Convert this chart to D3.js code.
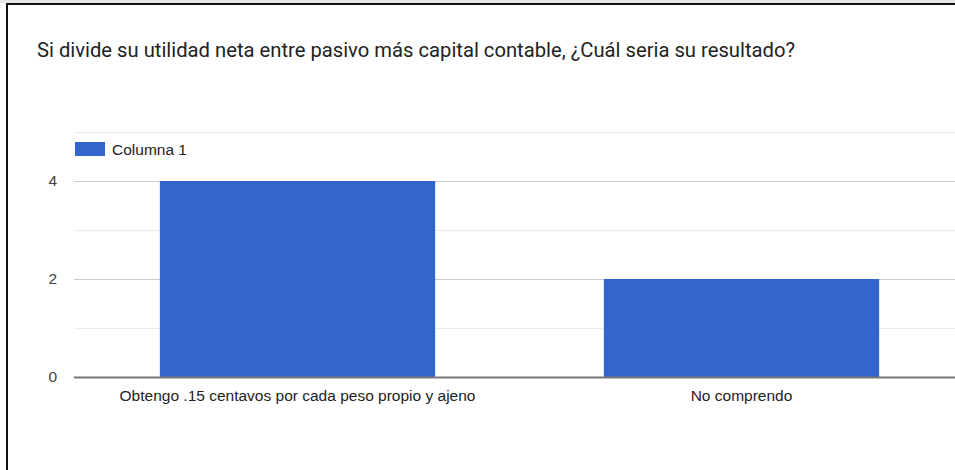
<!DOCTYPE html>
<html><head><meta charset="utf-8">
<script src="https://cdn.jsdelivr.net/npm/d3@7"></script>
<style>body{margin:0;background:#fff}svg{display:block}</style>
</head><body>
<svg id="c" width="955" height="470"></svg>
<script>
const title = "Si divide su utilidad neta entre pasivo más capital contable, ¿Cuál seria su resultado?";
const seriesName = "Columna 1";
const categories = ["Obtengo .15 centavos por cada peso propio y ajeno", "No comprendo"];
const values = [4, 2];
const majorTicks = [0, 2, 4];
const gridTicks = [1, 3, 5];

const svg = d3.select("#c");
const W = 955, H = 470;
svg.append("rect").attr("x",0).attr("y",0).attr("width",W).attr("height",3).attr("fill","#e8e8e8");
svg.append("rect").attr("x",0).attr("y",3).attr("width",W).attr("height",H-3).attr("fill","#fff");
svg.append("line").attr("x1",6).attr("x2",W).attr("y1",4).attr("y2",4).attr("stroke","#111").attr("stroke-width",2);
svg.append("line").attr("x1",7).attr("x2",7).attr("y1",3).attr("y2",H).attr("stroke","#111").attr("stroke-width",2);

const tt = svg.append("text").attr("x",37).attr("y",57).text(title)
  .attr("font-family","Roboto, 'Noto Sans', sans-serif").attr("font-size",20).attr("fill","#222");
tt.attr("textLength",758).attr("lengthAdjust","spacingAndGlyphs");

const x = d3.scaleBand().domain(categories).range([75.5, 963.5]).paddingInner(0.38).paddingOuter(0.19);
const y = d3.scaleLinear().domain([0, 5]).range([377, 132]);

svg.append("g").selectAll("line").data(gridTicks).join("line")
  .attr("x1",74).attr("x2",W).attr("y1",d=>y(d)+0.5).attr("y2",d=>y(d)+0.5)
  .attr("stroke","#ebebeb").attr("stroke-width",1);
svg.append("g").selectAll("line").data(majorTicks.filter(d=>d>0)).join("line")
  .attr("x1",74).attr("x2",W).attr("y1",d=>y(d)+0.5).attr("y2",d=>y(d)+0.5)
  .attr("stroke","#cccccc").attr("stroke-width",1);

const ya = svg.append("g").attr("transform","translate(57,0)")
  .call(d3.axisLeft(y).tickValues(majorTicks).tickSize(0).tickPadding(0).tickFormat(d3.format("d")));
ya.select(".domain").remove();
ya.selectAll("text").attr("font-family","Arial, 'Liberation Sans', sans-serif").attr("font-size",15.5).attr("fill","#444").attr("dy","0.32em");

svg.append("g").selectAll("rect").data(values).join("rect")
  .attr("x",(d,i)=>x(categories[i])).attr("width",x.bandwidth())
  .attr("y",d=>y(d)).attr("height",d=>y(0)-y(d)).attr("fill","#3366cc");

svg.append("line").attr("x1",74).attr("x2",W).attr("y1",y(0)+0.5).attr("y2",y(0)+0.5).attr("stroke","#777").attr("stroke-width",2);

const xa = svg.append("g").attr("transform",`translate(0,${y(0)})`)
  .call(d3.axisBottom(x).tickSize(0).tickPadding(13));
xa.select(".domain").remove();
xa.selectAll("text").attr("font-family","Arial, 'Liberation Sans', sans-serif").attr("font-size",15.5).attr("fill","#222");

svg.append("rect").attr("x",75).attr("y",142).attr("width",30).attr("height",14).attr("fill","#3366cc");
svg.append("text").attr("x",112).attr("y",155).text(seriesName)
  .attr("font-family","Arial, 'Liberation Sans', sans-serif").attr("font-size",15.5).attr("fill","#222");
</script>
</body></html>
